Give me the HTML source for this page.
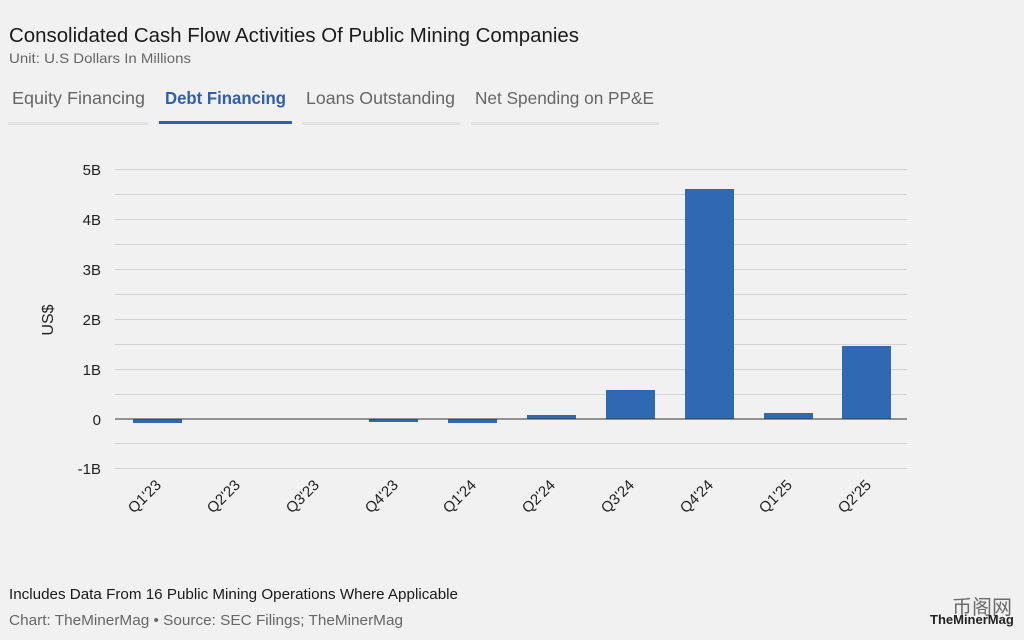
<!DOCTYPE html>
<html><head><meta charset="utf-8"><style>
body{margin:0;width:1024px;height:635px;background:#f1f1f1;font-family:"Liberation Sans",sans-serif;overflow:hidden}
</style></head><body>
<svg width="1024" height="635" xmlns="http://www.w3.org/2000/svg" font-family="Liberation Sans, sans-serif">
<rect width="1024" height="635" fill="#f1f1f1"/>
<text x="9" y="42" font-size="20" fill="#1a1a1a" textLength="570" lengthAdjust="spacingAndGlyphs">Consolidated Cash Flow Activities Of Public Mining Companies</text>
<text x="9" y="63" font-size="14" fill="#666" textLength="182" lengthAdjust="spacingAndGlyphs">Unit: U.S Dollars In Millions</text>
<g font-size="17.5" fill="#666">
<text x="12" y="104" textLength="133" lengthAdjust="spacingAndGlyphs">Equity Financing</text>
<text x="165" y="104" fill="#2f5fb3" font-weight="bold" textLength="121" lengthAdjust="spacingAndGlyphs">Debt Financing</text>
<text x="306" y="104" textLength="149" lengthAdjust="spacingAndGlyphs">Loans Outstanding</text>
<text x="475" y="104" textLength="179" lengthAdjust="spacingAndGlyphs">Net Spending on PP&amp;E</text>
</g>
<g fill="#e2e2e2">
<rect x="8" y="122" width="140" height="3"/><rect x="302" y="122" width="158" height="3"/><rect x="471" y="122" width="188" height="3"/>
</g>
<rect x="159" y="121" width="133" height="3" fill="#2f5fb3"/>
<g stroke="#d4d4d4" stroke-width="1">
<line x1="115" x2="907" y1="169.5" y2="169.5"/><line x1="115" x2="907" y1="194.5" y2="194.5"/>
<line x1="115" x2="907" y1="219.5" y2="219.5"/><line x1="115" x2="907" y1="244.5" y2="244.5"/>
<line x1="115" x2="907" y1="269.5" y2="269.5"/><line x1="115" x2="907" y1="294.5" y2="294.5"/>
<line x1="115" x2="907" y1="319.5" y2="319.5"/><line x1="115" x2="907" y1="344.5" y2="344.5"/>
<line x1="115" x2="907" y1="369.5" y2="369.5"/><line x1="115" x2="907" y1="394.5" y2="394.5"/>
<line x1="115" x2="907" y1="443.5" y2="443.5"/><line x1="115" x2="907" y1="468.5" y2="468.5"/>
</g>
<g font-size="15" fill="#222" text-anchor="end">
<text x="101" y="175">5B</text><text x="101" y="225">4B</text><text x="101" y="275">3B</text>
<text x="101" y="325">2B</text><text x="101" y="375">1B</text><text x="101" y="425">0</text><text x="101" y="474">-1B</text>
</g>
<text transform="translate(53,320) rotate(-90)" font-size="16" fill="#222" text-anchor="middle">US$</text>
<g fill="#2f69b3">
<rect x="133" y="419" width="49" height="4"/>
<rect x="369" y="419" width="49" height="3"/>
<rect x="448" y="419" width="49" height="4"/>
<rect x="527" y="415" width="49" height="4"/>
<rect x="606" y="390" width="49" height="29"/>
<rect x="685" y="189" width="49" height="230"/>
<rect x="764" y="413" width="49" height="6"/>
<rect x="842" y="346" width="49" height="73"/>
</g>
<line x1="115" x2="907" y1="419" y2="419" stroke="#333" stroke-width="1"/>
<g font-size="15" fill="#222" text-anchor="end">
<text transform="translate(162,486) rotate(-45)">Q1'23</text>
<text transform="translate(241,486) rotate(-45)">Q2'23</text>
<text transform="translate(320,486) rotate(-45)">Q3'23</text>
<text transform="translate(399,486) rotate(-45)">Q4'23</text>
<text transform="translate(477,486) rotate(-45)">Q1'24</text>
<text transform="translate(556,486) rotate(-45)">Q2'24</text>
<text transform="translate(635,486) rotate(-45)">Q3'24</text>
<text transform="translate(714,486) rotate(-45)">Q4'24</text>
<text transform="translate(793,486) rotate(-45)">Q1'25</text>
<text transform="translate(872,486) rotate(-45)">Q2'25</text>
</g>
<text x="9" y="599" font-size="15" fill="#1a1a1a" textLength="449" lengthAdjust="spacingAndGlyphs">Includes Data From 16 Public Mining Operations Where Applicable</text>
<text x="9" y="625" font-size="15" fill="#666" textLength="394" lengthAdjust="spacingAndGlyphs">Chart: TheMinerMag • Source: SEC Filings; TheMinerMag</text>
<text x="930" y="624" font-size="13" fill="#222" font-weight="bold">TheMinerMag</text>
<text x="952" y="614" font-size="20" fill="#333" font-family="Noto Sans CJK SC, sans-serif" opacity="0.7">币阁网</text>
</svg>
</body></html>
